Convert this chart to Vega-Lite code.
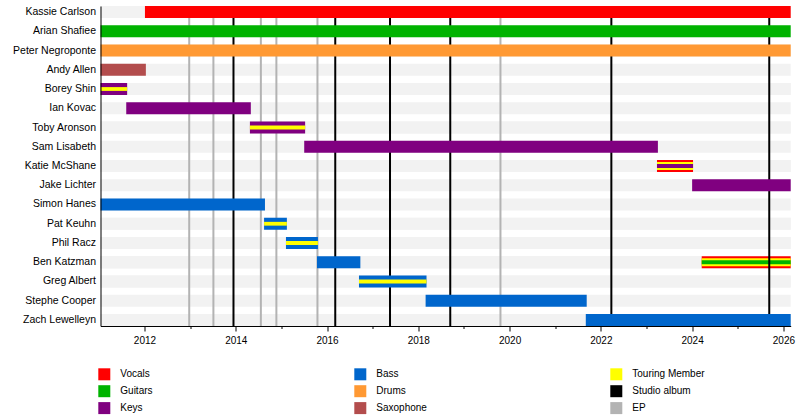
{
  "$schema": "https://vega.github.io/schema/vega-lite/v6.json",
  "width": 690.2,
  "height": 320,
  "autosize": "none",
  "padding": {"left": 100.5, "top": 6, "right": 9.3, "bottom": 89},
  "background": "white",
  "config": {
    "view": {"stroke": null},
    "font": "Liberation Sans",
    "axis": {"grid": false}
  },
  "datasets": {
    "segments": [
      {"member": "Kassie Carlson", "start": 2012.01, "end": 2026.16, "role": "Vocals", "level": "outer"},
      {"member": "Arian Shafiee", "start": 2011.036, "end": 2026.16, "role": "Guitars", "level": "outer"},
      {"member": "Peter Negroponte", "start": 2011.036, "end": 2026.16, "role": "Drums", "level": "outer"},
      {"member": "Andy Allen", "start": 2011.036, "end": 2012.03, "role": "Saxophone", "level": "outer"},
      {"member": "Borey Shin", "start": 2011.036, "end": 2011.62, "role": "Keys", "level": "outer"},
      {"member": "Borey Shin", "start": 2011.036, "end": 2011.62, "role": "Touring Member", "level": "inner"},
      {"member": "Ian Kovac", "start": 2011.60, "end": 2014.33, "role": "Keys", "level": "outer"},
      {"member": "Toby Aronson", "start": 2014.31, "end": 2015.52, "role": "Keys", "level": "outer"},
      {"member": "Toby Aronson", "start": 2014.31, "end": 2015.52, "role": "Touring Member", "level": "inner"},
      {"member": "Sam Lisabeth", "start": 2015.50, "end": 2023.25, "role": "Keys", "level": "outer"},
      {"member": "Katie McShane", "start": 2023.23, "end": 2024.02, "role": "Vocals", "level": "outer"},
      {"member": "Katie McShane", "start": 2023.23, "end": 2024.02, "role": "Touring Member", "level": "middle"},
      {"member": "Katie McShane", "start": 2023.23, "end": 2024.02, "role": "Keys", "level": "inner"},
      {"member": "Jake Lichter", "start": 2024.00, "end": 2026.16, "role": "Keys", "level": "outer"},
      {"member": "Simon Hanes", "start": 2011.036, "end": 2014.64, "role": "Bass", "level": "outer"},
      {"member": "Pat Keuhn", "start": 2014.62, "end": 2015.12, "role": "Bass", "level": "outer"},
      {"member": "Pat Keuhn", "start": 2014.62, "end": 2015.12, "role": "Touring Member", "level": "inner"},
      {"member": "Phil Racz", "start": 2015.10, "end": 2015.80, "role": "Bass", "level": "outer"},
      {"member": "Phil Racz", "start": 2015.10, "end": 2015.80, "role": "Touring Member", "level": "inner"},
      {"member": "Ben Katzman", "start": 2015.78, "end": 2016.73, "role": "Bass", "level": "outer"},
      {"member": "Ben Katzman", "start": 2024.21, "end": 2026.16, "role": "Vocals", "level": "outer"},
      {"member": "Ben Katzman", "start": 2024.21, "end": 2026.16, "role": "Touring Member", "level": "middle"},
      {"member": "Ben Katzman", "start": 2024.21, "end": 2026.16, "role": "Guitars", "level": "inner"},
      {"member": "Greg Albert", "start": 2016.70, "end": 2018.18, "role": "Bass", "level": "outer"},
      {"member": "Greg Albert", "start": 2016.70, "end": 2018.18, "role": "Touring Member", "level": "inner"},
      {"member": "Stephe Cooper", "start": 2018.16, "end": 2021.69, "role": "Bass", "level": "outer"},
      {"member": "Zach Lewelleyn", "start": 2021.67, "end": 2026.16, "role": "Bass", "level": "outer"}
    ],
    "releases": [
      {"role": "Studio album", "date": 2013.95},
      {"role": "Studio album", "date": 2016.18},
      {"role": "Studio album", "date": 2017.38},
      {"role": "Studio album", "date": 2018.70},
      {"role": "Studio album", "date": 2022.23},
      {"role": "Studio album", "date": 2025.69},
      {"role": "EP", "date": 2012.98},
      {"role": "EP", "date": 2013.51},
      {"role": "EP", "date": 2014.55},
      {"role": "EP", "date": 2014.89},
      {"role": "EP", "date": 2015.79},
      {"role": "EP", "date": 2019.80}
    ]
  },
  "encoding": {
    "color": {
      "field": "role",
      "type": "nominal",
      "scale": {
        "domain": ["Vocals", "Bass", "Touring Member", "Guitars", "Drums", "Studio album", "Keys", "Saxophone", "EP"],
        "range": ["#ff0000", "#0066cc", "#ffff00", "#00b300", "#ff9933", "#000000", "#800080", "#b34d4d", "#b3b3b3"]
      },
      "legend": {
        "title": null,
        "orient": "none",
        "legendX": -2.2,
        "legendY": 362.3,
        "direction": "horizontal",
        "columns": 3,
        "gridAlign": "all",
        "columnPadding": 161,
        "rowPadding": 4.9,
        "padding": 0,
        "symbolType": "square",
        "symbolSize": 144,
        "symbolStrokeWidth": 0,
        "symbolOpacity": 1,
        "labelOffset": 10,
        "labelFontSize": 10,
        "labelColor": "#000000",
        "labelFont": "Liberation Sans"
      }
    }
  },
  "layer": [
    {
      "data": {"name": "segments"},
      "mark": {"type": "bar", "color": "#f2f2f2"},
      "encoding": {
        "y": {
          "field": "member",
          "type": "nominal",
          "sort": ["Kassie Carlson", "Arian Shafiee", "Peter Negroponte", "Andy Allen", "Borey Shin", "Ian Kovac", "Toby Aronson", "Sam Lisabeth", "Katie McShane", "Jake Lichter", "Simon Hanes", "Pat Keuhn", "Phil Racz", "Ben Katzman", "Greg Albert", "Stephe Cooper", "Zach Lewelleyn"],
          "scale": {"paddingInner": 0.376, "paddingOuter": 0},
          "axis": {
            "title": null,
            "ticks": false,
            "labelPadding": 5,
            "domainColor": "#000000",
            "domainWidth": 1,
            "labelFontSize": 10.5,
            "labelColor": "#000000",
            "labelFont": "Liberation Sans",
            "zindex": 1
          }
        },
        "x": {
          "datum": 2011.036,
          "type": "quantitative",
          "scale": {"domain": [2011.036, 2026.16], "nice": false, "zero": false},
          "axis": {
            "title": null,
            "values": [2012, 2013, 2014, 2015, 2016, 2017, 2018, 2019, 2020, 2021, 2022, 2023, 2024, 2025, 2026],
            "format": "d",
            "labelExpr": "datum.value % 2 === 0 ? datum.label : ''",
            "tickColor": "#000000",
            "tickSize": {"condition": {"test": "datum.value % 2 === 0", "value": 5}, "value": 2.5},
            "domainColor": "#000000",
            "labelFontSize": 10,
            "labelColor": "#000000",
            "labelPadding": 4,
            "labelFlush": false,
            "labelFont": "Liberation Sans",
            "zindex": 1
          }
        },
        "x2": {"datum": 2026.16},
        "color": {"value": "#f2f2f2"}
      }
    },
    {
      "data": {"name": "segments"},
      "transform": [{"filter": "datum.member === 'Ben Katzman' && datum.start > 2020"}],
      "encoding": {
        "y": {
          "field": "member",
          "type": "nominal",
          "sort": ["Kassie Carlson", "Arian Shafiee", "Peter Negroponte", "Andy Allen", "Borey Shin", "Ian Kovac", "Toby Aronson", "Sam Lisabeth", "Katie McShane", "Jake Lichter", "Simon Hanes", "Pat Keuhn", "Phil Racz", "Ben Katzman", "Greg Albert", "Stephe Cooper", "Zach Lewelleyn"]
        },
        "x": {"field": "start", "type": "quantitative"},
        "x2": {"field": "end"}
      },
      "layer": [
        {"transform": [{"filter": "datum.level === 'outer'"}], "mark": {"type": "bar", "height": 12}},
        {"transform": [{"filter": "datum.level === 'middle'"}], "mark": {"type": "bar", "height": 8}},
        {"transform": [{"filter": "datum.level === 'inner'"}], "mark": {"type": "bar", "height": 3.8}}
      ]
    },
    {
      "data": {"name": "releases"},
      "mark": {"type": "rule", "strokeWidth": 2},
      "encoding": {
        "x": {"field": "date", "type": "quantitative"}
      }
    },
    {
      "data": {"name": "segments"},
      "transform": [{"filter": "!(datum.member === 'Ben Katzman' && datum.start > 2020)"}],
      "encoding": {
        "y": {
          "field": "member",
          "type": "nominal",
          "sort": ["Kassie Carlson", "Arian Shafiee", "Peter Negroponte", "Andy Allen", "Borey Shin", "Ian Kovac", "Toby Aronson", "Sam Lisabeth", "Katie McShane", "Jake Lichter", "Simon Hanes", "Pat Keuhn", "Phil Racz", "Ben Katzman", "Greg Albert", "Stephe Cooper", "Zach Lewelleyn"]
        },
        "x": {"field": "start", "type": "quantitative"},
        "x2": {"field": "end"}
      },
      "layer": [
        {"transform": [{"filter": "datum.level === 'outer'"}], "mark": {"type": "bar", "height": 12}},
        {"transform": [{"filter": "datum.level === 'middle'"}], "mark": {"type": "bar", "height": 8}},
        {"transform": [{"filter": "datum.level === 'inner'"}], "mark": {"type": "bar", "height": 3.8}}
      ]
    }
  ]
}
